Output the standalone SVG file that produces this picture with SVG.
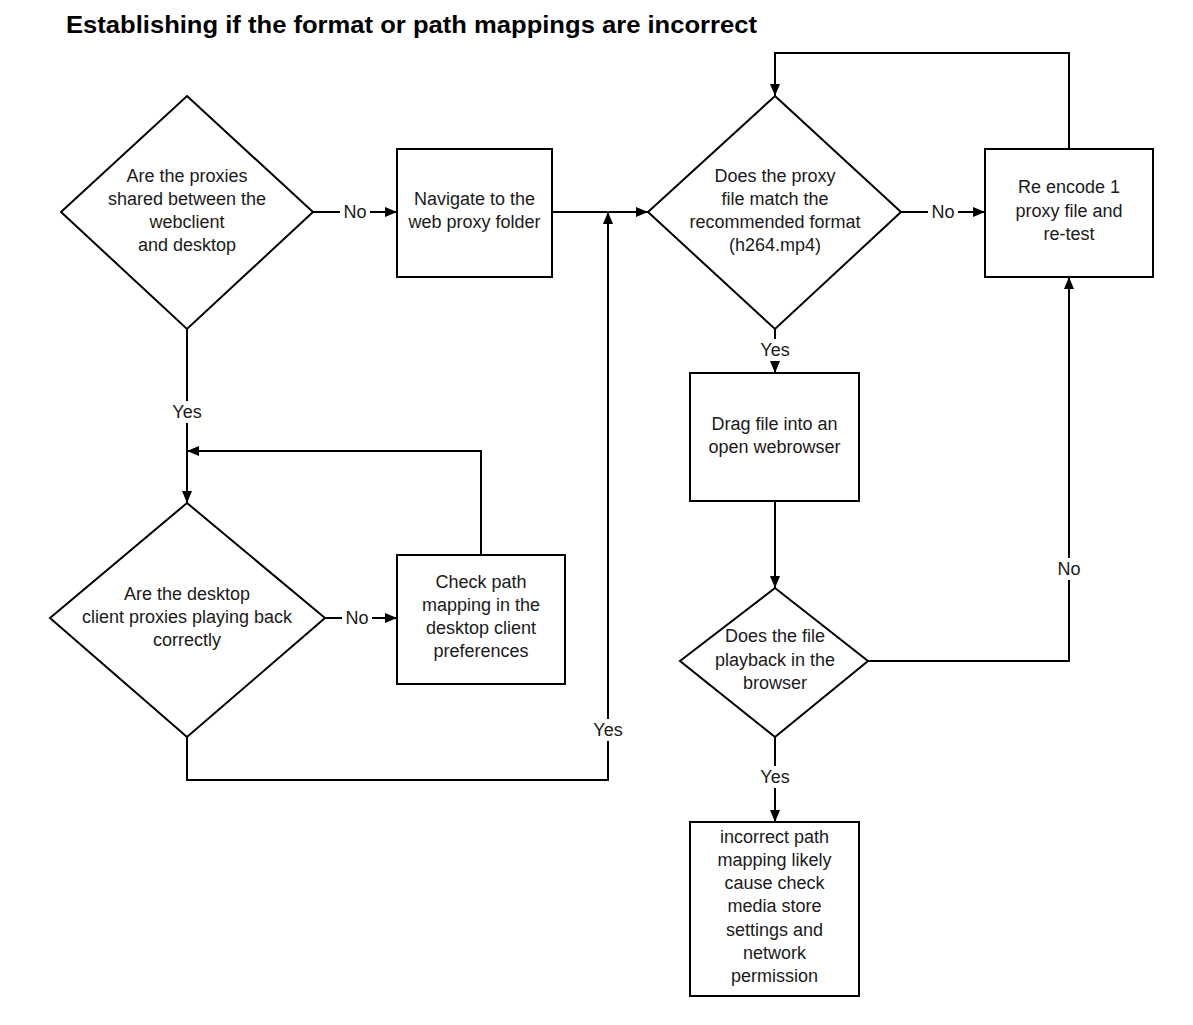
<svg xmlns="http://www.w3.org/2000/svg" width="1193" height="1025" viewBox="0 0 1193 1025">
<defs>
<marker id="ah" viewBox="0 0 12 10" refX="12" refY="5" markerWidth="12" markerHeight="10" markerUnits="userSpaceOnUse" orient="auto">
<path d="M0,0 L12,5 L0,10 z" fill="#000"/>
</marker>
</defs>
<style>
.shape{fill:#fff;stroke:#000;stroke-width:2}
.t{font-family:"Liberation Sans",Arial,sans-serif;font-size:18px;fill:#1a1a1a;text-anchor:middle}
.title{font-family:"Liberation Sans",Arial,sans-serif;font-size:24px;font-weight:bold;fill:#000}
.c{fill:none;stroke:#000;stroke-width:2}
.lbl{fill:#fff}
</style>
<rect width="1193" height="1025" fill="#fff"/>
<text class="title" x="66" y="33" textLength="691" lengthAdjust="spacingAndGlyphs">Establishing if the format or path mappings are incorrect</text>

<g id="connectors">
<path class="c" d="M313,212 H397" marker-end="url(#ah)"/>
<path class="c" d="M552,212 H648" marker-end="url(#ah)"/>
<path class="c" d="M901,212 H985" marker-end="url(#ah)"/>
<path class="c" d="M1069,149 V53 H775 V96" marker-end="url(#ah)"/>
<path class="c" d="M775,329 V373" marker-end="url(#ah)"/>
<path class="c" d="M775,501 V588" marker-end="url(#ah)"/>
<path class="c" d="M868,661 H1069 V277" marker-end="url(#ah)"/>
<path class="c" d="M775,737 V822" marker-end="url(#ah)"/>
<path class="c" d="M187,329 V503" marker-end="url(#ah)"/>
<path class="c" d="M325,618 H397" marker-end="url(#ah)"/>
<path class="c" d="M481,555 V451 H187" marker-end="url(#ah)"/>
<path class="c" d="M187,737 V780 H608 V212" marker-end="url(#ah)"/>
<rect class="lbl" x="340" y="201" width="30" height="22"/>
<text class="t" x="355" y="218">No</text>
<rect class="lbl" x="928" y="201" width="30" height="22"/>
<text class="t" x="943" y="218">No</text>
<rect class="lbl" x="342" y="607" width="30" height="22"/>
<text class="t" x="357" y="624">No</text>
<rect class="lbl" x="1054" y="558" width="30" height="22"/>
<text class="t" x="1069" y="575">No</text>
<rect class="lbl" x="758" y="339" width="34" height="22"/>
<text class="t" x="775" y="356">Yes</text>
<rect class="lbl" x="758" y="766" width="34" height="22"/>
<text class="t" x="775" y="783">Yes</text>
<rect class="lbl" x="170" y="401" width="34" height="22"/>
<text class="t" x="187" y="418">Yes</text>
<rect class="lbl" x="591" y="719" width="34" height="22"/>
<text class="t" x="608" y="736">Yes</text>
</g>

<g id="d1">
<polygon class="shape" points="187,96 313,212 187,329 61,212"/>
<text class="t" x="187" y="182">Are the proxies</text>
<text class="t" x="187" y="205">shared between the</text>
<text class="t" x="187" y="228">webclient</text>
<text class="t" x="187" y="251">and desktop</text>
</g>
<g id="b_navigate">
<rect class="shape" x="397" y="149" width="155" height="128"/>
<text class="t" x="474.5" y="205">Navigate to the</text>
<text class="t" x="474.5" y="228">web proxy folder</text>
</g>
<g id="d2">
<polygon class="shape" points="775,96 901,212 775,329 648,212"/>
<text class="t" x="775" y="182">Does the proxy</text>
<text class="t" x="775" y="205">file match the</text>
<text class="t" x="775" y="228">recommended format</text>
<text class="t" x="775" y="251">(h264.mp4)</text>
</g>
<g id="b_reencode">
<rect class="shape" x="985" y="149" width="168" height="128"/>
<text class="t" x="1069" y="193">Re encode 1</text>
<text class="t" x="1069" y="217">proxy file and</text>
<text class="t" x="1069" y="240">re-test</text>
</g>
<g id="b_drag">
<rect class="shape" x="690" y="373" width="169" height="128"/>
<text class="t" x="774.5" y="430">Drag file into an</text>
<text class="t" x="774.5" y="453">open webrowser</text>
</g>
<g id="d3">
<polygon class="shape" points="775,588 868,661 775,737 680,661"/>
<text class="t" x="775" y="642">Does the file</text>
<text class="t" x="775" y="666">playback in the</text>
<text class="t" x="775" y="689">browser</text>
</g>
<g id="b_result">
<rect class="shape" x="690" y="822" width="169" height="174"/>
<text class="t" x="774.5" y="843">incorrect path</text>
<text class="t" x="774.5" y="866">mapping likely</text>
<text class="t" x="774.5" y="889">cause check</text>
<text class="t" x="774.5" y="912">media store</text>
<text class="t" x="774.5" y="936">settings and</text>
<text class="t" x="774.5" y="959">network</text>
<text class="t" x="774.5" y="982">permission</text>
</g>
<g id="d4">
<polygon class="shape" points="187,503 325,618 187,737 50,618"/>
<text class="t" x="187" y="600">Are the desktop</text>
<text class="t" x="187" y="623">client proxies playing back</text>
<text class="t" x="187" y="646">correctly</text>
</g>
<g id="b_check">
<rect class="shape" x="397" y="555" width="168" height="129"/>
<text class="t" x="481" y="588">Check path</text>
<text class="t" x="481" y="611">mapping in the</text>
<text class="t" x="481" y="634">desktop client</text>
<text class="t" x="481" y="657">preferences</text>
</g>
</svg>
